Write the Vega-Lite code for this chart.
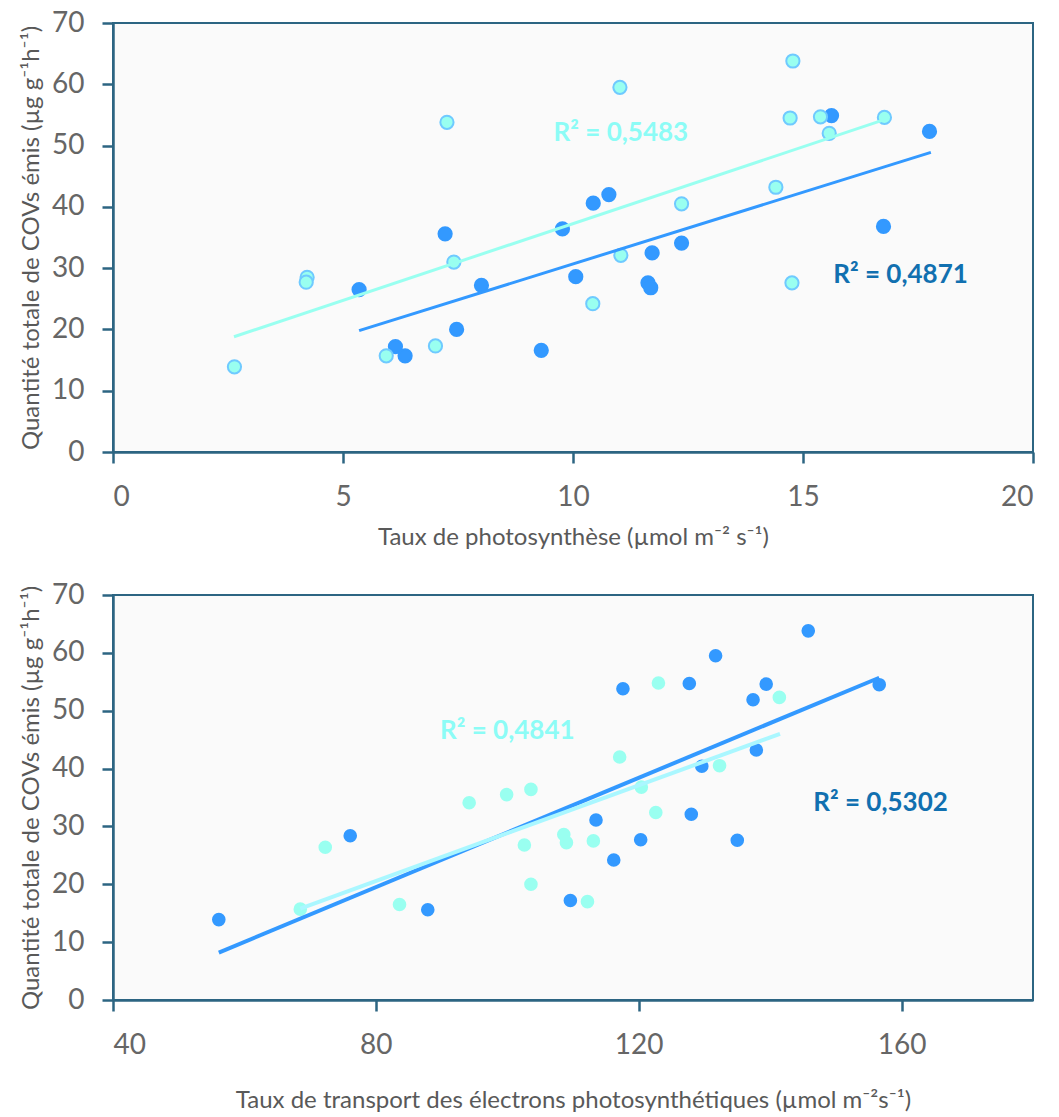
{
  "$schema": "https://vega.github.io/schema/vega-lite/v6.json",
  "background": "white",
  "padding": {"left": 18, "top": 8, "right": 5, "bottom": 5},
  "spacing": 30,
  "resolve": {"scale": {"color": "independent", "stroke": "independent", "fill": "independent", "x": "independent", "y": "independent"}},
  "config": {
    "font": "Lato",
    "view": {"fill": "#fafafa", "stroke": "#2c6582", "strokeWidth": 2},
    "axis": {
      "domainColor": "#2c6582", "domainWidth": 2.5,
      "tickColor": "#2c6582", "tickWidth": 2.5, "tickSize": 11,
      "grid": false,
      "labelFont": "Lato", "labelFontSize": 28, "labelColor": "#666666", "labelPadding": 20,
      "titleFont": "Lato", "titleFontSize": 24, "titleFontWeight": "normal", "titleColor": "#595959"
    },
    "axisY": {"titlePadding": 8, "labelPadding": 18},
    "axisX": {"titlePadding": 14}
  },
  "datasets": {
    "top_points": [
      {"serie": "A", "x": 5.35, "y": 26.5},
      {"serie": "A", "x": 6.14, "y": 17.2},
      {"serie": "A", "x": 6.35, "y": 15.7},
      {"serie": "A", "x": 7.22, "y": 35.6},
      {"serie": "A", "x": 7.47, "y": 20.0},
      {"serie": "A", "x": 8.01, "y": 27.2},
      {"serie": "A", "x": 9.31, "y": 16.6},
      {"serie": "A", "x": 9.77, "y": 36.4},
      {"serie": "A", "x": 10.06, "y": 28.6},
      {"serie": "A", "x": 10.44, "y": 40.6},
      {"serie": "A", "x": 10.78, "y": 42.0},
      {"serie": "A", "x": 11.63, "y": 27.6},
      {"serie": "A", "x": 11.69, "y": 26.8},
      {"serie": "A", "x": 11.72, "y": 32.5},
      {"serie": "A", "x": 12.36, "y": 34.1},
      {"serie": "A", "x": 15.62, "y": 54.9},
      {"serie": "A", "x": 16.75, "y": 36.8},
      {"serie": "A", "x": 17.75, "y": 52.3},
      {"serie": "B", "x": 2.64, "y": 13.9},
      {"serie": "B", "x": 4.22, "y": 28.5},
      {"serie": "B", "x": 4.20, "y": 27.7},
      {"serie": "B", "x": 5.94, "y": 15.7},
      {"serie": "B", "x": 7.01, "y": 17.3},
      {"serie": "B", "x": 7.26, "y": 53.8},
      {"serie": "B", "x": 7.41, "y": 31.0},
      {"serie": "B", "x": 10.43, "y": 24.2},
      {"serie": "B", "x": 11.02, "y": 59.5},
      {"serie": "B", "x": 11.04, "y": 32.1},
      {"serie": "B", "x": 12.36, "y": 40.5},
      {"serie": "B", "x": 14.41, "y": 43.2},
      {"serie": "B", "x": 14.72, "y": 54.5},
      {"serie": "B", "x": 14.76, "y": 27.6},
      {"serie": "B", "x": 14.78, "y": 63.8},
      {"serie": "B", "x": 15.38, "y": 54.7},
      {"serie": "B", "x": 15.57, "y": 52.0},
      {"serie": "B", "x": 16.77, "y": 54.6}
    ],
    "top_lines": [
      {"serie": "A", "x": 5.35, "y": 19.8},
      {"serie": "A", "x": 17.78, "y": 48.9},
      {"serie": "B", "x": 2.63, "y": 18.8},
      {"serie": "B", "x": 16.72, "y": 54.1}
    ],
    "top_labels": [
      {"serie": "A", "x": 17.12, "y": 28.8, "label": "R² = 0,4871"},
      {"serie": "B", "x": 11.04, "y": 52.1, "label": "R² = 0,5483"}
    ],
    "bot_points": [
      {"serie": "A", "x": 56.1, "y": 13.9},
      {"serie": "A", "x": 76.1, "y": 28.4},
      {"serie": "A", "x": 87.9, "y": 15.6},
      {"serie": "A", "x": 109.6, "y": 17.2},
      {"serie": "A", "x": 113.5, "y": 31.1},
      {"serie": "A", "x": 116.2, "y": 24.2},
      {"serie": "A", "x": 117.6, "y": 53.8},
      {"serie": "A", "x": 120.3, "y": 27.7},
      {"serie": "A", "x": 127.7, "y": 54.7},
      {"serie": "A", "x": 128.0, "y": 32.1},
      {"serie": "A", "x": 129.6, "y": 40.4},
      {"serie": "A", "x": 131.7, "y": 59.5},
      {"serie": "A", "x": 135.0, "y": 27.6},
      {"serie": "A", "x": 137.4, "y": 51.9},
      {"serie": "A", "x": 137.9, "y": 43.2},
      {"serie": "A", "x": 139.4, "y": 54.6},
      {"serie": "A", "x": 145.8, "y": 63.8},
      {"serie": "A", "x": 156.6, "y": 54.5},
      {"serie": "B", "x": 68.5, "y": 15.7},
      {"serie": "B", "x": 72.3, "y": 26.4},
      {"serie": "B", "x": 83.6, "y": 16.5},
      {"serie": "B", "x": 94.2, "y": 34.1},
      {"serie": "B", "x": 99.9, "y": 35.5},
      {"serie": "B", "x": 102.6, "y": 26.8},
      {"serie": "B", "x": 103.6, "y": 36.4},
      {"serie": "B", "x": 103.6, "y": 20.0},
      {"serie": "B", "x": 108.6, "y": 28.6},
      {"serie": "B", "x": 109.0, "y": 27.2},
      {"serie": "B", "x": 112.2, "y": 17.0},
      {"serie": "B", "x": 113.1, "y": 27.5},
      {"serie": "B", "x": 117.1, "y": 42.0},
      {"serie": "B", "x": 120.4, "y": 36.8},
      {"serie": "B", "x": 122.6, "y": 32.4},
      {"serie": "B", "x": 123.0, "y": 54.8},
      {"serie": "B", "x": 132.3, "y": 40.5},
      {"serie": "B", "x": 141.4, "y": 52.3}
    ],
    "bot_lines": [
      {"serie": "A", "x": 56.1, "y": 8.2},
      {"serie": "A", "x": 156.6, "y": 55.7},
      {"serie": "B", "x": 68.5, "y": 15.8},
      {"serie": "B", "x": 141.5, "y": 46.0}
    ],
    "bot_labels": [
      {"serie": "A", "x": 156.8, "y": 34.1, "label": "R² = 0,5302"},
      {"serie": "B", "x": 100.0, "y": 46.5, "label": "R² = 0,4841"}
    ]
  },
  "vconcat": [
    {
      "width": 920,
      "height": 429,
      "layer": [
        {
          "data": {"name": "top_points"},
          "mark": {"type": "point", "shape": "circle", "filled": true, "size": 175, "strokeWidth": 2, "opacity": 1},
          "encoding": {
            "x": {"field": "x", "type": "quantitative", "scale": {"domain": [0, 20], "nice": false}, "axis": {"values": [0, 5, 10, 15, 20], "title": "Taux de photosynthèse (µmol m⁻² s⁻¹)"}},
            "y": {"field": "y", "type": "quantitative", "scale": {"domain": [0, 70], "nice": false}, "axis": {"values": [0, 10, 20, 30, 40, 50, 60, 70], "title": "Quantité totale de COVs émis (µg g⁻¹h⁻¹)"}},
            "color": {"field": "serie", "type": "nominal", "scale": {"domain": ["A", "B"], "range": ["#3399ff", "#99fff0"]}, "legend": null},
            "stroke": {"field": "serie", "type": "nominal", "scale": {"domain": ["A", "B"], "range": ["#3399ff", "#6fcaff"]}, "legend": null},
            "order": {"field": "serie", "type": "nominal"}
          }
        },
        {
          "data": {"name": "top_lines"},
          "mark": {"type": "line", "strokeWidth": 3},
          "encoding": {
            "x": {"field": "x", "type": "quantitative"},
            "y": {"field": "y", "type": "quantitative"},
            "color": {"field": "serie", "type": "nominal", "legend": null}
          }
        },
        {
          "data": {"name": "top_labels"},
          "mark": {"type": "text", "fontSize": 26, "fontWeight": "bold", "font": "Lato", "align": "center", "baseline": "middle"},
          "encoding": {
            "x": {"field": "x", "type": "quantitative"},
            "y": {"field": "y", "type": "quantitative"},
            "text": {"field": "label", "type": "nominal"},
            "fill": {"field": "serie", "type": "nominal", "scale": {"domain": ["A", "B"], "range": ["#1170b0", "#8cfcf6"]}, "legend": null}
          }
        }
      ]
    },
    {
      "width": 920,
      "height": 405,
      "layer": [
        {
          "data": {"name": "bot_points"},
          "mark": {"type": "point", "shape": "circle", "filled": true, "size": 185, "strokeWidth": 0, "opacity": 1},
          "encoding": {
            "x": {"field": "x", "type": "quantitative", "scale": {"domain": [40, 180], "nice": false}, "axis": {"values": [40, 80, 120, 160], "title": "Taux de transport des électrons photosynthétiques (µmol m⁻²s⁻¹)", "titlePadding": 29}},
            "y": {"field": "y", "type": "quantitative", "scale": {"domain": [0, 70], "nice": false}, "axis": {"values": [0, 10, 20, 30, 40, 50, 60, 70], "title": "Quantité totale de COVs émis (µg g⁻¹h⁻¹)"}},
            "color": {"field": "serie", "type": "nominal", "scale": {"domain": ["A", "B"], "range": ["#3399ff", "#99fff0"]}, "legend": null}
          }
        },
        {
          "data": {"name": "bot_lines"},
          "mark": {"type": "line", "strokeWidth": 4},
          "encoding": {
            "x": {"field": "x", "type": "quantitative"},
            "y": {"field": "y", "type": "quantitative"},
            "stroke": {"field": "serie", "type": "nominal", "scale": {"domain": ["B", "A"], "range": ["#aaf7ff", "#3399ff"]}, "legend": null},
            "order": {"field": "x", "type": "quantitative"}
          }
        },
        {
          "data": {"name": "bot_labels"},
          "mark": {"type": "text", "fontSize": 26, "fontWeight": "bold", "font": "Lato", "align": "center", "baseline": "middle"},
          "encoding": {
            "x": {"field": "x", "type": "quantitative"},
            "y": {"field": "y", "type": "quantitative"},
            "text": {"field": "label", "type": "nominal"},
            "fill": {"field": "serie", "type": "nominal", "scale": {"domain": ["A", "B"], "range": ["#1170b0", "#8cfcf6"]}, "legend": null}
          }
        }
      ]
    }
  ]
}
